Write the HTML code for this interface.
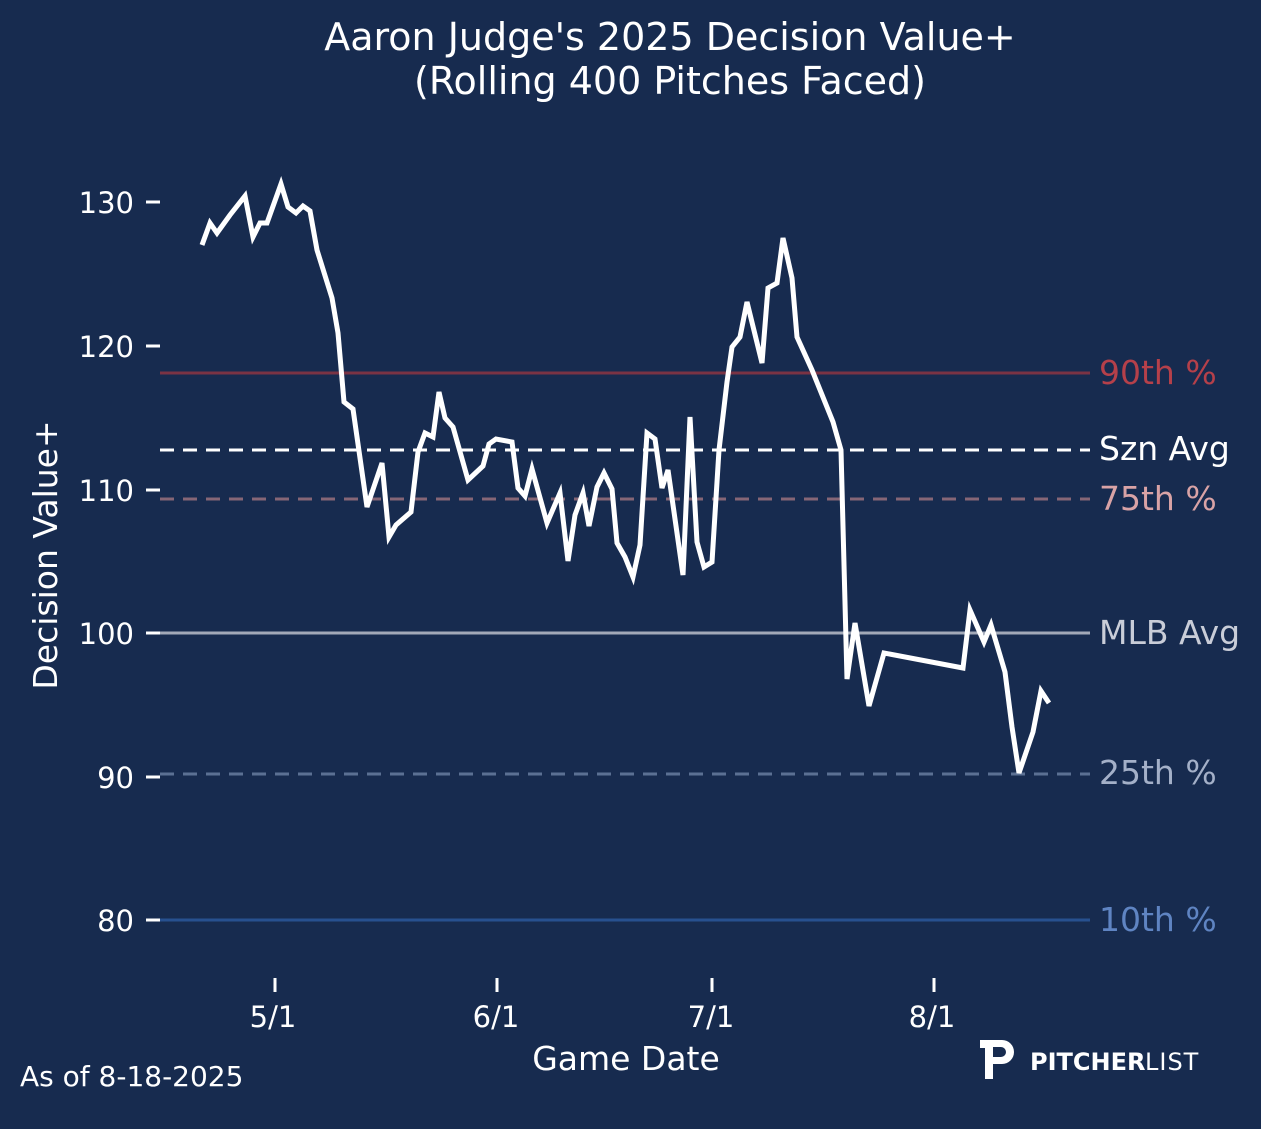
<!DOCTYPE html>
<html><head><meta charset="utf-8"><style>
body{margin:0;background:#172b4f;}
svg{display:block;font-family:"DejaVu Sans","Liberation Sans",sans-serif;}
</style></head><body>
<svg width="1261" height="1129" viewBox="0 0 1261 1129">
<rect width="1261" height="1129" fill="#172b4f"/>
<text x="670" y="50" fill="#fff" font-size="38" text-anchor="middle">Aaron Judge's 2025 Decision Value+</text>
<text x="670" y="94" fill="#fff" font-size="38" text-anchor="middle">(Rolling 400 Pitches Faced)</text>
<g stroke-width="3">
<line x1="160" y1="373" x2="1090" y2="373" stroke="#7a3344"/>
<line x1="160" y1="499" x2="1090" y2="499" stroke="#866676" stroke-dasharray="14,9"/>
<line x1="160" y1="633" x2="1090" y2="633" stroke="#a2a9b8"/>
<line x1="160" y1="774" x2="1090" y2="774" stroke="#5b7093" stroke-dasharray="14,9"/>
<line x1="160" y1="920" x2="1090" y2="920" stroke="#27508f"/>
<line x1="160" y1="450" x2="1090" y2="450" stroke="#fff" stroke-dasharray="14,9"/>
</g>
<g font-size="33">
<text x="1099" y="384" fill="#b5404a">90th %</text>
<text x="1099" y="460" fill="#fff">Szn Avg</text>
<text x="1099" y="510" fill="#d9a3a6">75th %</text>
<text x="1099" y="644" fill="#c9cdd8">MLB Avg</text>
<text x="1099" y="784" fill="#a4b0c8">25th %</text>
<text x="1099" y="931" fill="#5f84c2">10th %</text>
</g>
<g stroke="#fff" stroke-width="3">
<line x1="146" y1="202" x2="160" y2="202"/><line x1="146" y1="346" x2="160" y2="346"/>
<line x1="146" y1="490" x2="160" y2="490"/><line x1="146" y1="633" x2="160" y2="633"/>
<line x1="146" y1="777" x2="160" y2="777"/><line x1="146" y1="920" x2="160" y2="920"/>
<line x1="275" y1="978" x2="275" y2="992"/><line x1="497" y1="978" x2="497" y2="992"/>
<line x1="712" y1="978" x2="712" y2="992"/><line x1="934" y1="978" x2="934" y2="992"/>
</g>
<g fill="#fff" font-size="29" text-anchor="end">
<text x="134" y="213">130</text><text x="134" y="357">120</text><text x="134" y="501">110</text>
<text x="134" y="644">100</text><text x="134" y="788">90</text><text x="134" y="931">80</text>
</g>
<g fill="#fff" font-size="29" text-anchor="middle">
<text x="273" y="1027">5/1</text><text x="496" y="1027">6/1</text><text x="711" y="1027">7/1</text><text x="932" y="1027">8/1</text>
</g>
<text x="626" y="1070" fill="#fff" font-size="33" text-anchor="middle">Game Date</text>
<text transform="translate(57,555) rotate(-90)" fill="#fff" font-size="33" text-anchor="middle">Decision Value+</text>
<text x="20" y="1086" fill="#fff" font-size="28">As of 8-18-2025</text>
<polyline fill="none" stroke="#fff" stroke-width="5" stroke-linejoin="miter" points="202,245 210,223 217,233 230,215 245,196 253,237 260,223 267,223 281,184 288,207 296,213 303,206 310,211 317,250 332,298 338,333 344,402 353,409 367,507 382,463 389,537 396,525 411,512 418,452 425,433 433,437 439,392 445,418 453,427 468,480 483,466 489,444 496,439 512,442 518,488 525,496 532,469 547,523 560,493 568,561 575,515 583,493 589,526 597,487 604,473 612,489 617,543 625,557 633,577 640,545 647,433 655,439 662,488 668,470 683,575 690,417 697,542 704,567 712,562 719,450 727,382 732,347 740,337 747,302 762,363 768,288 777,283 783,238 792,278 797,337 812,370 833,422 841,450 847,679 855,623 869,706 884,653 963,668 970,610 984,642 991,625 1005,672 1012,727 1019,773 1033,732 1041,691 1049,703"/>
<g fill="#fff">
<path d="M980,1040 h22 a12,12 0 0 1 0,24 h-9 v15 h-8 v-31 h-5 z" />
<path d="M993,1047 h8 a5,5 0 0 1 0,10 h-8 z" fill="#172b4f"/>
<text x="1030" y="1070" font-size="24" font-weight="bold">PITCHER</text>
<text x="1145" y="1070" font-size="24" font-weight="normal" letter-spacing="1">LIST</text>
</g>
</svg>
</body></html>
